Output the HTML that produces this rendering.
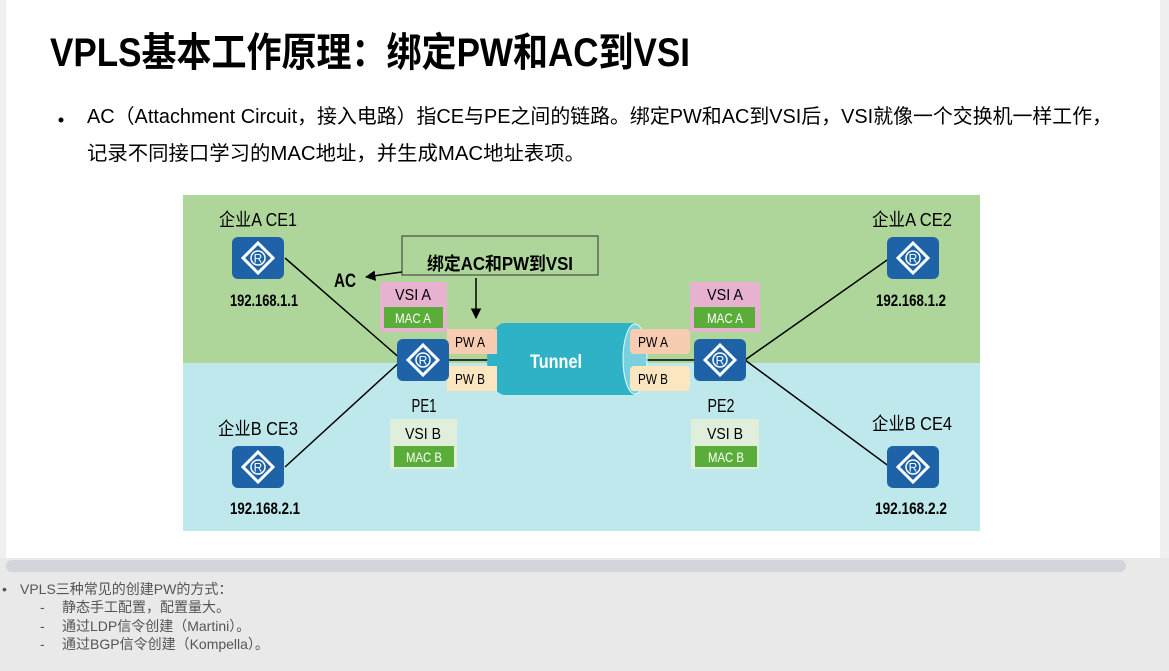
<!DOCTYPE html>
<html><head><meta charset="utf-8"><style>
html,body{margin:0;padding:0;background:#fff;width:1169px;height:671px;overflow:hidden}
svg{display:block}
text{font-family:"Liberation Sans Narrow","Liberation Sans","Noto Sans CJK SC",sans-serif}
.b{font-weight:bold}
</style></head><body>
<svg width="1169" height="671" viewBox="0 0 1169 671" xmlns="http://www.w3.org/2000/svg">
<defs>
<g id="r">
<rect x="-26" y="-21" width="52" height="42" rx="6" fill="#1e63a8"/>
<path d="M0,-15 L15,0 L0,15 L-15,0 Z" fill="none" stroke="#fff" stroke-width="3"/>
<circle r="7" fill="none" stroke="#fff" stroke-width="1.5"/>
<text x="0" y="4.5" font-size="12" fill="#fff" text-anchor="middle" style="font-family:'Liberation Sans',sans-serif">R</text>
</g>
<marker id="ah" viewBox="0 0 10 10" refX="9" refY="5" markerWidth="7" markerHeight="7" orient="auto"><path d="M0,0 L10,5 L0,10 z" fill="#000"/></marker>
</defs>
<rect x="0" y="0" width="1169" height="671" fill="#fff"/>
<rect x="0" y="0" width="6" height="560" fill="#eef0f2"/>
<rect x="1160" y="0" width="9" height="575" fill="#eef0f2"/>
<rect x="0" y="558" width="1169" height="113" fill="#e9e9ea"/>
<rect x="6" y="560" width="1120" height="12" rx="6" fill="#d2d5d9"/>

<text x="50" y="66" font-size="40" class="b" textLength="640" lengthAdjust="spacingAndGlyphs" fill="#000">VPLS基本工作原理：绑定PW和AC到VSI</text>
<circle cx="61" cy="120" r="2.5" fill="#000"/>
<text x="87" y="123" font-size="20" textLength="1025" lengthAdjust="spacingAndGlyphs">AC（Attachment Circuit，接入电路）指CE与PE之间的链路。绑定PW和AC到VSI后，VSI就像一个交换机一样工作，</text>
<text x="87" y="160" font-size="20" textLength="498" lengthAdjust="spacingAndGlyphs">记录不同接口学习的MAC地址，并生成MAC地址表项。</text>

<rect x="183" y="195" width="797" height="168" fill="#aed69a"/>
<rect x="183" y="363" width="797" height="168" fill="#bfe8ec"/>

<g stroke="#000" stroke-width="1.5" fill="none">
<line x1="285" y1="258" x2="402" y2="360"/>
<line x1="285" y1="467" x2="402" y2="360"/>
<line x1="745" y1="360" x2="890" y2="258"/>
<line x1="745" y1="360" x2="890" y2="467"/>
<line x1="445" y1="360" x2="700" y2="360"/>
<line x1="402" y1="272" x2="366" y2="277" marker-end="url(#ah)"/>
<line x1="476" y1="278" x2="476" y2="318" marker-end="url(#ah)"/>
</g>
<rect x="402" y="236" width="196" height="39" fill="#aed69a" stroke="#333" stroke-width="1"/>
<text x="500" y="270" font-size="18" text-anchor="middle" class="b" textLength="146" lengthAdjust="spacingAndGlyphs">绑定AC和PW到VSI</text>
<text x="345" y="287" font-size="19" text-anchor="middle" class="b" textLength="22" lengthAdjust="spacingAndGlyphs">AC</text>

<path d="M505,323 L632,323 A14,36 0 0 1 632,395 L505,395 A18,36 0 0 1 505,323 Z" fill="#2fb1c6"/>
<ellipse cx="635" cy="359" rx="12" ry="35" fill="#7ad0dc" stroke="#dff" stroke-width="1"/>
<text x="556" y="368" font-size="19" fill="#fff" text-anchor="middle" class="b" textLength="52" lengthAdjust="spacingAndGlyphs">Tunnel</text>

<g font-size="16">
<rect x="380" y="282" width="67" height="50" fill="#e6b2cf"/>
<text x="413" y="300" text-anchor="middle" textLength="36" lengthAdjust="spacingAndGlyphs">VSI A</text>
<rect x="384" y="307" width="59" height="21" fill="#5aad38"/>
<text x="413" y="323" font-size="14" fill="#fff" text-anchor="middle" textLength="36" lengthAdjust="spacingAndGlyphs">MAC A</text>
<rect x="447" y="329" width="50" height="25" fill="#f8ccb0"/>
<text x="455" y="347" font-size="15" textLength="30" lengthAdjust="spacingAndGlyphs">PW A</text>
<rect x="447" y="366" width="50" height="25" fill="#fbe6c0"/>
<text x="455" y="384" font-size="15" textLength="30" lengthAdjust="spacingAndGlyphs">PW B</text>
<use href="#r" x="423" y="360"/>
<text x="424" y="412" font-size="18" text-anchor="middle" textLength="25" lengthAdjust="spacingAndGlyphs">PE1</text>
<rect x="390" y="419" width="67" height="50" fill="#e0eedc"/>
<text x="423" y="439" text-anchor="middle" textLength="36" lengthAdjust="spacingAndGlyphs">VSI B</text>
<rect x="394" y="446" width="60" height="21" fill="#5aad38"/>
<text x="424" y="462" font-size="14" fill="#fff" text-anchor="middle" textLength="36" lengthAdjust="spacingAndGlyphs">MAC B</text>

<rect x="690" y="282" width="70" height="50" fill="#e6b2cf"/>
<text x="725" y="300" text-anchor="middle" textLength="36" lengthAdjust="spacingAndGlyphs">VSI A</text>
<rect x="694" y="307" width="61" height="21" fill="#5aad38"/>
<text x="725" y="323" font-size="14" fill="#fff" text-anchor="middle" textLength="36" lengthAdjust="spacingAndGlyphs">MAC A</text>
<rect x="630" y="329" width="60" height="25" rx="4" fill="#f8ccb0"/>
<text x="638" y="347" font-size="15" textLength="30" lengthAdjust="spacingAndGlyphs">PW A</text>
<rect x="630" y="366" width="60" height="25" rx="4" fill="#fbe6c0"/>
<text x="638" y="384" font-size="15" textLength="30" lengthAdjust="spacingAndGlyphs">PW B</text>
<use href="#r" x="720" y="360"/>
<text x="721" y="412" font-size="18" text-anchor="middle" textLength="27" lengthAdjust="spacingAndGlyphs">PE2</text>
<rect x="691" y="419" width="68" height="50" fill="#e0eedc"/>
<text x="725" y="439" text-anchor="middle" textLength="36" lengthAdjust="spacingAndGlyphs">VSI B</text>
<rect x="695" y="446" width="62" height="21" fill="#5aad38"/>
<text x="726" y="462" font-size="14" fill="#fff" text-anchor="middle" textLength="36" lengthAdjust="spacingAndGlyphs">MAC B</text>
</g>

<g font-size="18">
<text x="258" y="226" text-anchor="middle" textLength="78" lengthAdjust="spacingAndGlyphs">企业A CE1</text>
<use href="#r" x="258" y="258"/>
<text x="264" y="306" font-size="17" text-anchor="middle" class="b" textLength="68" lengthAdjust="spacingAndGlyphs">192.168.1.1</text>
<text x="258" y="435" text-anchor="middle" textLength="80" lengthAdjust="spacingAndGlyphs">企业B CE3</text>
<use href="#r" x="258" y="467"/>
<text x="265" y="514" font-size="17" text-anchor="middle" class="b" textLength="70" lengthAdjust="spacingAndGlyphs">192.168.2.1</text>
<text x="912" y="226" text-anchor="middle" textLength="80" lengthAdjust="spacingAndGlyphs">企业A CE2</text>
<use href="#r" x="913" y="258"/>
<text x="911" y="306" font-size="17" text-anchor="middle" class="b" textLength="70" lengthAdjust="spacingAndGlyphs">192.168.1.2</text>
<text x="912" y="430" text-anchor="middle" textLength="80" lengthAdjust="spacingAndGlyphs">企业B CE4</text>
<use href="#r" x="913" y="467"/>
<text x="911" y="514" font-size="17" text-anchor="middle" class="b" textLength="72" lengthAdjust="spacingAndGlyphs">192.168.2.2</text>
</g>

<g fill="#555" font-size="14">
<text x="2" y="594">•</text>
<text x="20" y="594" style="font-family:'Liberation Sans','Noto Sans CJK SC',sans-serif">VPLS三种常见的创建PW的方式：</text>
<text x="40" y="612">-</text>
<text x="62" y="612" style="font-family:'Liberation Sans','Noto Sans CJK SC',sans-serif">静态手工配置，配置量大。</text>
<text x="40" y="631">-</text>
<text x="62" y="631" style="font-family:'Liberation Sans','Noto Sans CJK SC',sans-serif">通过LDP信令创建（Martini）。</text>
<text x="40" y="649">-</text>
<text x="62" y="649" style="font-family:'Liberation Sans','Noto Sans CJK SC',sans-serif">通过BGP信令创建（Kompella）。</text>
</g>
</svg>
</body></html>
